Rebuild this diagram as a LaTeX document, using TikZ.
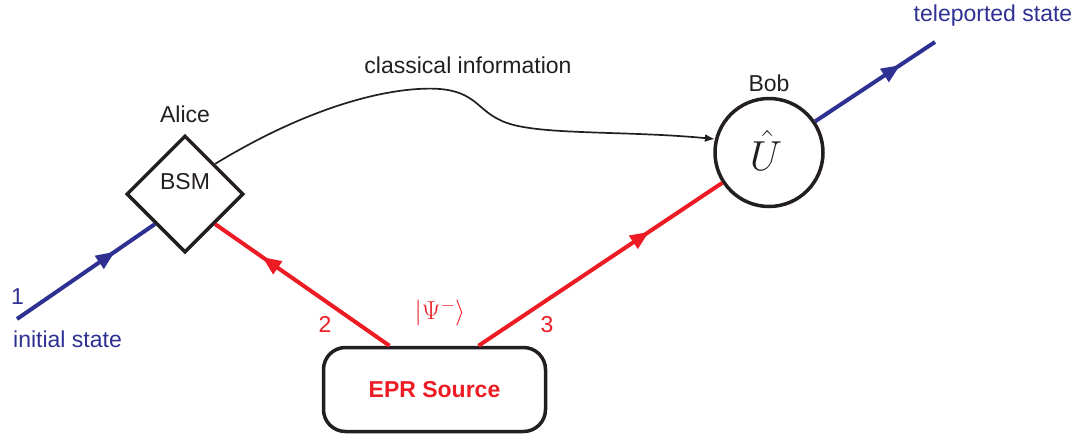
\documentclass[tikz,border=0pt]{standalone}
\usepackage{fix-cm}
\usepackage[no-math]{fontspec}
\setmainfont{Liberation Sans}
\usetikzlibrary{shapes.geometric,arrows.meta,decorations.markings}
\definecolor{qblue}{HTML}{2E3192}
\definecolor{qred}{HTML}{ED1C24}
\definecolor{qblack}{HTML}{231F20}
\tikzset{
  txt/.style={font=\fontsize{23}{27}\selectfont, inner sep=0pt, anchor=base, text=qblack},
  frame/.style={draw=qblack, line width=3.5pt},
  beam/.style={line width=4pt},
  midarrow/.style={postaction={decorate}, decoration={markings,
     mark=at position #1 with {\arrow{Triangle[length=19pt,width=15pt]}}}},
}
\begin{document}
\begin{tikzpicture}[x=1pt,y=-1pt]
\useasboundingbox (0,0) rectangle (1077,437);
% main nodes
\node[frame, diamond, aspect=1, minimum width=117pt, minimum height=117pt, inner sep=0pt] (bsm) at (185,194) {};
\node[frame, circle, minimum size=108pt, inner sep=0pt] (bob) at (769,152.5) {};
\node[frame, rounded corners=22pt, minimum width=222pt, minimum height=84pt, inner sep=0pt] (epr) at (434.5,389.5) {};
% texts
\node[txt] (bsmtxt) at (185,189) {BSM};
\node[txt] (alice) at (185,122) {Alice};
\node[txt] (bobtxt) at (769,91) {Bob};
\node[inner sep=0pt, anchor=base, text=qblack, font=\fontsize{42}{42}\selectfont] (utxt) at (766,170) {$\hat{U}$};
\node[txt, text=qred, font=\fontsize{23}{27}\selectfont\bfseries] (eprtxt) at (434.5,397) {EPR Source};
\node[txt] (classical) at (468,73) {classical information};
\node[txt, text=qblue, anchor=base west] (initial) at (13,347) {initial state};
\node[txt, text=qblue, anchor=base west] (one) at (11,304) {1};
\node[txt, text=qblue] (teleported) at (993,21) {teleported state};
\node[txt, text=qred] (two) at (325,332) {2};
\node[txt, text=qred] (three) at (547,332) {3};
\node[inner sep=0pt, text=qred, font=\fontsize{26}{30}\selectfont] (psi) at (440,313) {$\bigg|\Psi^{-}\bigg\rangle$};
% free ends
\coordinate (in) at (17,319);
\coordinate (out) at (935,42);
% beams
\draw[beam, qblue, midarrow=0.71] (in) -- (bsm.south west);
\draw[beam, qred, midarrow=0.73] ([xshift=-45pt]epr.north) -- (bsm.south east);
\draw[beam, qred, midarrow=0.70] ([xshift=44pt]epr.north) -- (bob.213);
\draw[beam, qblue, midarrow=0.71] (bob.34) -- (out);
% classical channel
\draw[qblack, line width=1.7pt, -{Latex[length=10pt,width=8pt]}]
  (bsm.north east) .. controls (320,100) and (400,86) .. (440,89)
  .. controls (475,92) and (478,110) .. (500,120)
  .. controls (530,136) and (620,130) .. (bob.166);
\end{tikzpicture}
\end{document}
